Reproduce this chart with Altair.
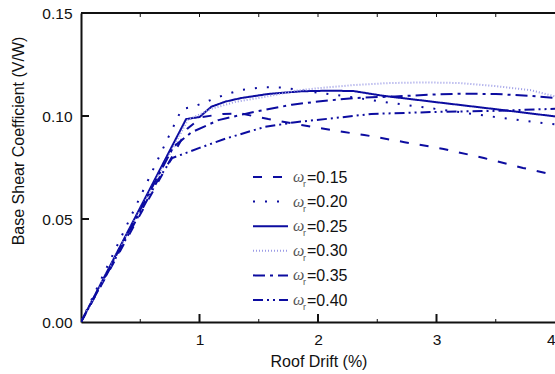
import altair as alt
import pandas as pd

# ---- data ----
series_names = ["0.15", "0.20", "0.25", "0.30", "0.35", "0.40"]

x_015 = [0, 0.90, 1.02, 1.20, 1.35, 1.58, 1.86, 2.22, 2.39, 2.73, 3.06, 3.40, 3.73, 4.00]
y_015 = [0, 0.094, 0.0995, 0.1010, 0.1012, 0.0985, 0.0956, 0.0922, 0.0908, 0.0873, 0.0840, 0.0796, 0.0748, 0.0713]

x_020 = [0, 0.85, 0.95, 1.15, 1.25, 1.35, 1.55, 1.70, 2.04, 2.31, 2.53, 2.92, 3.50, 3.90, 4.00]
y_020 = [0, 0.1034, 0.1045, 0.1090, 0.1110, 0.1126, 0.1140, 0.1138, 0.1110, 0.1090, 0.1070, 0.1040, 0.0995, 0.0966, 0.0960]

x_025 = [0, 0.887, 1.00, 1.10, 1.22, 1.35, 1.58, 1.86, 2.10, 2.30, 2.55, 3.00, 3.50, 4.00]
y_025 = [0, 0.0985, 0.0995, 0.1045, 0.1070, 0.1087, 0.1107, 0.1120, 0.1123, 0.1121, 0.1098, 0.1067, 0.1033, 0.0998]

x_030 = [0, 0.90, 1.10, 1.30, 1.60, 1.80, 2.00, 2.30, 2.60, 2.90, 3.20, 3.50, 3.80, 4.00]
y_030 = [0, 0.0980, 0.1035, 0.1068, 0.1098, 0.1122, 0.1135, 0.1150, 0.1160, 0.1163, 0.1160, 0.1145, 0.1125, 0.1095]

x_035 = [0, 0.78, 0.93, 1.16, 1.42, 1.78, 2.00, 2.30, 2.65, 3.00, 3.20, 3.50, 3.80, 4.00]
y_035 = [0, 0.0850, 0.0920, 0.0980, 0.1015, 0.1055, 0.1070, 0.1087, 0.1095, 0.1105, 0.1108, 0.1107, 0.1097, 0.1088]

x_040 = [0, 0.65, 0.77, 1.00, 1.22, 1.55, 1.81, 2.14, 2.45, 3.00, 3.50, 4.00]
y_040 = [0, 0.0690, 0.0796, 0.0845, 0.0890, 0.0947, 0.0970, 0.0990, 0.1010, 0.1020, 0.1025, 0.1035]

xs = [x_015, x_020, x_025, x_030, x_035, x_040]
ys = [y_015, y_020, y_025, y_030, y_035, y_040]

x_major_ticks = [1, 2, 3]
x_minor_ticks = [0.5, 1.5, 2.5, 3.5]
x_top_ticks = [0.5, 1, 1.5, 2, 2.5, 3, 3.5]
y_ticks = [0.05, 0.10]
x_labels = [1, 2, 3, 4]
y_labels = [0, 0.05, 0.10, 0.15]
y_title = "Base Shear Coefficient (V/W)"
x_title = "Roof Drift (%)"

# ---- styles ----
dark = "#0c0ca0"
light = "#9c9ce6"
colors = [dark, dark, dark, light, dark, dark]
dashes = [[9, 11], [2, 10], [1, 0], [1, 2], [12, 5, 3, 5], [10, 4, 2, 4, 2, 4]]

W, H = 474, 309

rows = []
for name, xv, yv in zip(series_names, xs, ys):
    for i, (a, b) in enumerate(zip(xv, yv)):
        rows.append({"series": name, "x": a, "y": b, "i": i})
df = pd.DataFrame(rows)

leg = pd.DataFrame({
    "series": series_names,
    "ly": [164 + k * 24.6 for k in range(len(series_names))],
    "label": ["=" + s for s in series_names],
})

xscale = alt.Scale(domain=[0, 4], nice=False, zero=False)
yscale = alt.Scale(domain=[0, 0.15], nice=False, zero=False)
cscale = alt.Scale(domain=series_names, range=colors)
dscale = alt.Scale(domain=series_names, range=dashes)

lines = alt.Chart(df).mark_line(strokeWidth=2, clip=True).encode(
    x=alt.X("x:Q", scale=xscale, axis=alt.Axis(
        values=x_labels, format="d", ticks=False, tickSize=0, labelPadding=10,
        grid=False, domainColor="#111", domainWidth=2, labelColor="#111",
        labelFontSize=15.5, labelFontWeight="normal", labelFont="Liberation Sans",
        title=None)),
    y=alt.Y("y:Q", scale=yscale, axis=alt.Axis(
        values=y_labels, format=".2f", ticks=False, tickSize=0, labelPadding=9,
        grid=False, domainColor="#111", domainWidth=2, labelColor="#111",
        labelFontSize=15.5, labelFontWeight="normal", labelFont="Liberation Sans",
        title=None)),
    color=alt.Color("series:N", scale=cscale, legend=None),
    strokeDash=alt.StrokeDash("series:N", scale=dscale, legend=None),
    order="i:Q",
)

titles = pd.DataFrame({"t": [x_title]})
x_title_mark = alt.Chart(titles).mark_text(
    font="Liberation Sans", fontSize=16, color="#111", align="center",
    baseline="middle").encode(
    x=alt.value(238), y=alt.value(H + 40), text="t:N")
y_title_mark = alt.Chart(pd.DataFrame({"t": [y_title]})).mark_text(
    font="Liberation Sans", fontSize=16, color="#111", align="center",
    baseline="middle", angle=270).encode(
    x=alt.value(-62), y=alt.value(128), text="t:N")

tick_major = alt.Chart(pd.DataFrame({"t": x_major_ticks})).mark_rule(
    color="#111", strokeWidth=2).encode(
    x=alt.X("t:Q", scale=xscale), y=alt.value(H), y2=alt.value(H - 8))
tick_minor = alt.Chart(pd.DataFrame({"t": x_minor_ticks})).mark_rule(
    color="#111", strokeWidth=1).encode(
    x=alt.X("t:Q", scale=xscale), y=alt.value(H), y2=alt.value(H - 3))
tick_top = alt.Chart(pd.DataFrame({"t": x_top_ticks})).mark_rule(
    color="#111", strokeWidth=1).encode(
    x=alt.X("t:Q", scale=xscale), y=alt.value(0), y2=alt.value(4))
tick_y = alt.Chart(pd.DataFrame({"t": y_ticks})).mark_rule(
    color="#111", strokeWidth=2).encode(
    y=alt.Y("t:Q", scale=yscale), x=alt.value(0), x2=alt.value(8))
top_line = alt.Chart(pd.DataFrame({"t": [0]})).mark_rule(
    color="#111", strokeWidth=2).encode(
    x=alt.value(0), x2=alt.value(W), y=alt.value(0))

leg_lines = alt.Chart(leg).mark_rule(strokeWidth=2).encode(
    x=alt.value(172), x2=alt.value(207),
    y=alt.Y("ly:Q", scale=None, axis=None),
    color=alt.Color("series:N", scale=cscale, legend=None),
    strokeDash=alt.StrokeDash("series:N", scale=dscale, legend=None),
)
leg_omega = alt.Chart(leg).mark_text(
    text="ω", font="Liberation Serif", fontStyle="italic", fontSize=16,
    align="left", baseline="alphabetic", color="#555", dy=5).encode(
    x=alt.value(212), y=alt.Y("ly:Q", scale=None, axis=None))
leg_r = alt.Chart(leg).mark_text(
    text="r", font="Liberation Sans", fontSize=9, align="left",
    baseline="alphabetic", color="#555", dy=10).encode(
    x=alt.value(222), y=alt.Y("ly:Q", scale=None, axis=None))
leg_text = alt.Chart(leg).mark_text(
    font="Liberation Sans", fontSize=16, align="left", baseline="alphabetic",
    color="#111", dy=5.5).encode(
    x=alt.value(226), y=alt.Y("ly:Q", scale=None, axis=None), text="label:N")

chart = alt.layer(
    lines, tick_major, tick_minor, tick_top, tick_y, top_line,
    leg_lines, leg_omega, leg_r, leg_text, x_title_mark, y_title_mark,
).properties(
    width=W, height=H,
    autosize=alt.AutoSizeParams(type="none"),
    padding={"left": 81, "top": 13, "right": 0, "bottom": 52},
    background="white",
).configure_view(stroke="transparent").configure(font="Liberation Sans")

chart.save("out.html", embed_options={"renderer": "svg", "actions": False})
